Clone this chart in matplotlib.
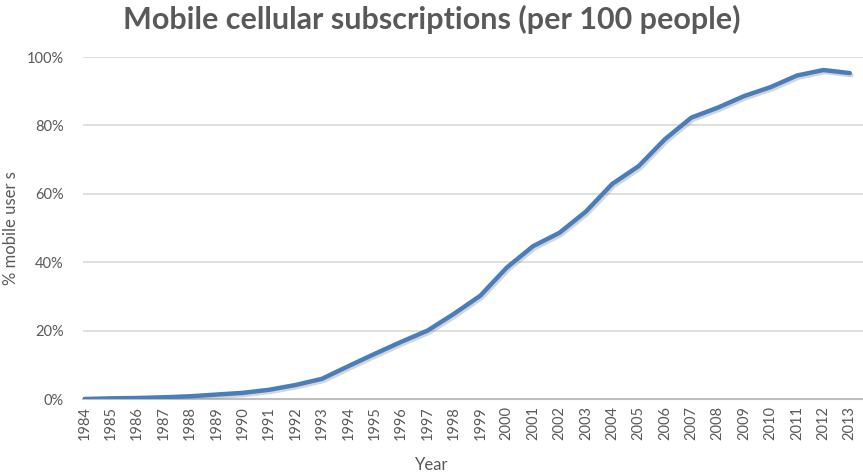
import matplotlib
matplotlib.use("Agg")
import matplotlib.pyplot as plt
import matplotlib.patheffects as pe
from matplotlib.ticker import FuncFormatter

years = list(range(1984, 2014))
subscriptions = [0.0, 0.2, 0.3, 0.5, 0.8, 1.3, 1.8, 2.7, 4.1, 5.9,
                 9.6, 13.2, 16.7, 20.0, 24.9, 30.2, 38.4, 44.7, 48.6, 54.8,
                 62.9, 68.1, 76.0, 82.3, 85.2, 88.6, 91.2, 94.6, 96.2, 95.3]
title = "Mobile cellular subscriptions (per 100 people)"
xlabel = "Year"
ylabel = "% mobile user s"

plt.rcParams['font.family'] = ['Lato', 'DejaVu Sans']
fig = plt.figure(figsize=(8.63, 4.74), dpi=100)
ax = fig.add_axes([0.0962, 0.1582, 0.9038, 0.7215])

ax.plot(years, subscriptions, color='#4a7ebb', lw=3.2, solid_capstyle='round',
        path_effects=[pe.SimpleLineShadow(offset=(1.2, -1.5), shadow_color='#888888', alpha=0.35), pe.Normal()],
        zorder=3)

ax.set_xlim(1983.95, 2013.5)
ax.set_ylim(0, 100)
ax.set_yticks([0, 20, 40, 60, 80, 100])
ax.yaxis.set_major_formatter(FuncFormatter(lambda v, p: f"{int(v)}%"))
ax.set_xticks(years)
ax.set_xticklabels([str(y) for y in years], rotation=90)
ax.grid(axis='y', color='#d9d9d9', lw=1.2)
ax.set_axisbelow(True)
for s in ['top', 'right', 'left']:
    ax.spines[s].set_visible(False)
ax.spines['bottom'].set_color('#bfbfbf')
ax.spines['bottom'].set_linewidth(1.5)
ax.tick_params(axis='both', length=0, colors='#595959', labelsize=10.5)
ax.tick_params(axis='y', pad=14)
ax.tick_params(axis='x', pad=5)

fig.text(11 / 863, 1 - 228 / 474, ylabel, rotation=90, ha='center', va='center',
         color='#595959', fontsize=12)
fig.text(0.5, 1 - 465 / 474, xlabel, ha='center', va='center', color='#595959', fontsize=12)
fig.text(0.5, 1 - 19 / 474, title, ha='center', va='center', fontsize=22, fontweight='bold', color='#595959')

fig.savefig("out.png", dpi=100)
